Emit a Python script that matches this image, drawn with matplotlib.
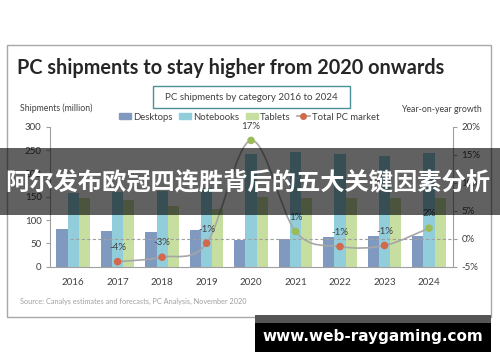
import matplotlib
matplotlib.use("Agg")
import matplotlib.pyplot as plt
from matplotlib.patches import Rectangle, Patch
from matplotlib.lines import Line2D
from matplotlib.path import Path
from matplotlib.patches import PathPatch
import numpy as np

years = ["2016", "2017", "2018", "2019", "2020", "2021", "2022", "2023", "2024"]
desktops = [81, 77, 75, 78, 57, 59, 64, 65, 65]
notebooks = [158, 160, 163, 168, 242, 247, 242, 238, 244]
tablets = [148, 143, 131, 124, 150, 148, 148, 147, 147]
growth_years = ["2017", "2018", "2019", "2020", "2021", "2022", "2023", "2024"]
growth = [-4.1, -3.3, -0.8, 17.6, 1.3, -1.4, -1.2, 1.9]
growth_labels = ["-4%", "-3%", "-1%", "17%", "1%", "-1%", "-1%", "2%"]
left_ticks = [0, 50, 100, 150, 200, 250, 300]
right_ticks = [-5, 0, 5, 10, 15, 20]

W, H = 500, 362
fig = plt.figure(figsize=(W / 100, H / 100), dpi=100)
fig.patch.set_facecolor("white")

def fx(px):
    return px / W

def fy(py):
    return 1 - py / H

c_desk = "#8099bf"
c_note = "#92cddc"
c_tab = "#c6dfa1"
c_line = "#a6a6a6"
c_neg = "#d2694b"
c_pos = "#9bbb59"
c_text = "#404040"

# outer frame
fig.add_artist(Rectangle((fx(7), fy(317)), fx(491) - fx(7), fy(45) - fy(317),
                         transform=fig.transFigure, fill=False, edgecolor="#a8a8a8", lw=1.0))

fig.text(fx(17), fy(68), "PC shipments to stay higher from 2020 onwards", family="Lato",
         fontweight="bold", fontsize=14.3, color="#262626", va="center", ha="left")

# subtitle box
fig.add_artist(Rectangle((fx(153), fy(108)), fx(350) - fx(153), fy(86) - fy(108),
                         transform=fig.transFigure, fill=False, edgecolor="#4a8f96", lw=1.0))
fig.text(fx(251.5), fy(97), "PC shipments by category 2016 to 2024", family="Lato",
         fontsize=7, color=c_text, ha="center", va="center")

fig.text(fx(20), fy(108), "Shipments (million)", family="Lato", fontsize=6.3, color=c_text,
         ha="left", va="center")
fig.text(fx(482), fy(110), "Year-on-year growth", family="Lato", fontsize=6.3, color=c_text,
         ha="right", va="center")

ax = fig.add_axes([fx(50), fy(266.7), fx(453) - fx(50), fy(127) - fy(266.7)])
x = np.arange(len(years))
bw = 0.25
ax.bar(x - bw, desktops, bw, color=c_desk, zorder=2)
ax.bar(x, notebooks, bw, color=c_note, zorder=2)
ax.bar(x + bw, tablets, bw, color=c_tab, zorder=2)
ax.set_xlim(-0.52, 8.54)
ax.set_ylim(0, 300)
ax.set_yticks(left_ticks)
ax.set_yticklabels([str(t) for t in left_ticks], family="Lato", fontsize=7, color=c_text)
ax.set_xticks(x)
ax.set_xticklabels(years, family="Lato", fontsize=7, color=c_text)
ax.tick_params(axis="x", length=0, pad=8)
ax.tick_params(axis="y", length=3, color="#a0a0a0", pad=3)
for s in ["top", "right"]:
    ax.spines[s].set_visible(False)
ax.spines["left"].set_color("#a0a0a0")
ax.spines["bottom"].set_color("#a0a0a0")
ax.set_facecolor("none")

ax2 = ax.twinx()
ax2.set_ylim(-5, 20)
ax2.set_yticks(right_ticks)
ax2.set_yticklabels([f"{t}%" for t in right_ticks], family="Lato", fontsize=7, color=c_text)
ax2.tick_params(axis="y", length=3, color="#a0a0a0", pad=3)
for s in ["top", "left", "bottom"]:
    ax2.spines[s].set_visible(False)
ax2.spines["right"].set_color("#a0a0a0")
ax2.axhline(0, xmin=0.05, xmax=1, color="#a0a0a0", lw=0.8, ls=(0, (3, 2)), zorder=1)

gx = np.array([years.index(y) for y in growth_years], dtype=float)
gy = np.array(growth, dtype=float)
# smooth curve (Catmull-Rom as cubic Bezier) through the data points
verts = [(gx[0], gy[0])]
codes = [Path.MOVETO]
n = len(gx)
for i in range(n - 1):
    p0 = np.array([gx[max(i - 1, 0)], gy[max(i - 1, 0)]])
    p1 = np.array([gx[i], gy[i]])
    p2 = np.array([gx[i + 1], gy[i + 1]])
    p3 = np.array([gx[min(i + 2, n - 1)], gy[min(i + 2, n - 1)]])
    c1 = p1 + (p2 - p0) / 6.0
    c2 = p2 - (p3 - p1) / 6.0
    verts += [tuple(c1), tuple(c2), tuple(p2)]
    codes += [Path.CURVE4] * 3
ax2.add_patch(PathPatch(Path(verts, codes), facecolor="none", edgecolor=c_line, lw=1.2, zorder=3))
cols = [c_pos if v > 0 else c_neg for v in gy]
ax2.scatter(gx, gy, s=30, c=cols, zorder=4, edgecolors="none")
for xi, yi, lab in zip(gx, gy, growth_labels):
    ax2.annotate(lab, (xi, yi), xytext=(0, 7), textcoords="offset points", ha="center",
                 va="bottom", family="Lato", fontsize=7, color=c_text, zorder=5)

handles = [Patch(color=c_desk), Patch(color=c_note), Patch(color=c_tab),
           Line2D([0], [0], color=c_line, lw=1.2, marker="o", markersize=4,
                  markerfacecolor=c_neg, markeredgecolor=c_neg)]
fig.legend(handles, ["Desktops", "Notebooks", "Tablets", "Total PC market"], ncol=4,
           loc="center", bbox_to_anchor=(fx(249), fy(117)), frameon=False,
           prop={"family": "Lato", "size": 6.8}, handlelength=1.3, handleheight=0.6,
           columnspacing=0.7, handletextpad=0.2, labelcolor=c_text, borderpad=0)

fig.text(fx(20), fy(301), "Source: Canalys estimates and forecasts, PC Analysis, November 2020",
         family="Lato", fontsize=5.3, color="#a0a0a0", ha="left", va="center")

# overlay banner
fig.add_artist(Rectangle((0, fy(215)), 1, fy(148) - fy(215), transform=fig.transFigure,
                         facecolor="black", alpha=0.62, edgecolor="none", zorder=10))
fig.text(fx(248), fy(182), "阿尔发布欧冠四连胜背后的五大关键因素分析",
         family=["Noto Sans CJK SC", "DejaVu Sans"], fontweight="bold", fontsize=17.5,
         color="white", ha="center", va="center", zorder=11)

# watermark box
fig.add_artist(Rectangle((fx(255), fy(352)), fx(491) - fx(255), fy(315) - fy(352),
                         transform=fig.transFigure, facecolor="black", edgecolor="none", zorder=10))
fig.add_artist(Rectangle((fx(255), fy(323)), fx(491) - fx(255), fy(315) - fy(323),
                         transform=fig.transFigure, facecolor="#555555", edgecolor="none", zorder=10))
fig.text(fx(373), fy(337), "www.web-raygaming.com", family="DejaVu Sans", fontweight="bold",
         fontsize=11, color="white", ha="center", va="center", zorder=11)

fig.savefig("out.png", dpi=100)
